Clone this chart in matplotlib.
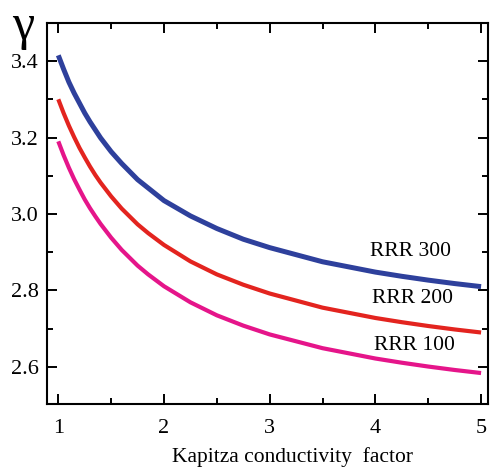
import matplotlib
matplotlib.use("Agg")
import matplotlib.pyplot as plt
from matplotlib.ticker import MultipleLocator

x = [1.0, 1.05, 1.1, 1.15, 1.2, 1.25, 1.3, 1.35, 1.4, 1.5, 1.6, 1.75, 1.85,
     2.0, 2.25, 2.5, 2.75, 3.0, 3.5, 4.0, 4.25, 4.5, 4.75, 5.0]
rrr300 = [3.415, 3.379, 3.345, 3.316, 3.29, 3.264, 3.241, 3.22, 3.199, 3.163, 3.132,
          3.09, 3.068, 3.035, 2.995, 2.962, 2.934, 2.912, 2.875, 2.848, 2.837, 2.827,
          2.818, 2.81]
rrr200 = [3.30, 3.264, 3.231, 3.201, 3.173, 3.148, 3.124, 3.102, 3.082, 3.046, 3.014,
          2.973, 2.950, 2.919, 2.876, 2.842, 2.815, 2.792, 2.755, 2.728, 2.717, 2.707,
          2.698, 2.69]
rrr100 = [3.19, 3.154, 3.121, 3.091, 3.064, 3.038, 3.015, 2.994, 2.974, 2.938, 2.906,
          2.865, 2.842, 2.811, 2.769, 2.735, 2.708, 2.685, 2.649, 2.622, 2.611, 2.601,
          2.592, 2.584]
labels = ["RRR 300", "RRR 200", "RRR 100"]
xticks = [1, 2, 3, 4, 5]
yticks = [2.6, 2.8, 3.0, 3.2, 3.4]

plt.rcParams['font.family'] = ['Liberation Serif', 'DejaVu Serif']

fig = plt.figure(figsize=(4.91, 4.70), dpi=100)
ax = fig.add_axes([0.0957, 0.1404, 0.994 - 0.0957, 0.951 - 0.1404])

kw = dict(solid_capstyle='butt', solid_joinstyle='round')
ax.plot(x, rrr300, color='#2e409c', lw=3.6, **kw)
ax.plot(x, rrr200, color='#e3241f', lw=3.0, **kw)
ax.plot(x, rrr100, color='#e5158a', lw=3.0, **kw)

ax.text(4.33, 2.903, labels[0], fontsize=15.5, ha='center', va='center')
ax.text(4.35, 2.778, labels[1], fontsize=15.5, ha='center', va='center')
ax.text(4.37, 2.657, labels[2], fontsize=15.5, ha='center', va='center')

ax.set_xlim(0.893, 5.066)
ax.set_ylim(2.503, 3.4994)
ax.set_xticks(xticks)
ax.set_yticks(yticks)
ax.set_yticklabels([f"{v:.1f}" for v in yticks])
ax.xaxis.set_minor_locator(MultipleLocator(0.5))
ax.yaxis.set_minor_locator(MultipleLocator(0.1))
ax.tick_params(which='both', direction='in', top=True, right=True, width=1.4,
               labelsize=16)
ax.tick_params(which='major', length=7)
ax.tick_params(axis='y', which='major', pad=6)
ax.tick_params(axis='x', which='major', pad=11)
ax.tick_params(which='minor', length=4)
for s in ax.spines.values():
    s.set_linewidth(1.5)

ax.set_xlabel("Kapitza conductivity  factor", fontsize=15.5)
ax.xaxis.set_label_coords(0.556, -0.113)
fig.text(0.0468, 0.9426, "γ", fontsize=36, ha='center', va='center')

fig.savefig("out.png", dpi=100)
